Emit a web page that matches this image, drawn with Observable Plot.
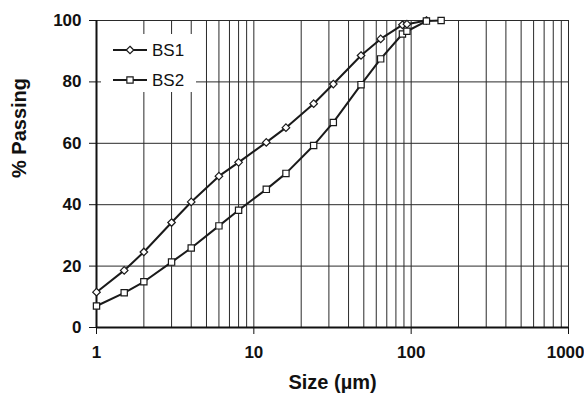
<!DOCTYPE html>
<html>
<head>
<meta charset="utf-8">
<script src="https://cdn.jsdelivr.net/npm/d3@7"></script>
<script src="https://cdn.jsdelivr.net/npm/@observablehq/plot@0.6"></script>
<style>
  html, body { margin: 0; padding: 0; background: #fff; }
  #wrap { position: relative; width: 584px; height: 397px; font-family: Arial, "Liberation Sans", sans-serif; }
  #legend { position: absolute; left: 101px; top: 34px; width: 95px; height: 58px; background: #fff; }
  #legend svg { display: block; }
</style>
</head>
<body>
<div id="wrap"></div>
<script>
const seriesNames = ["BS1", "BS2"];
const sizesBS1 = [1, 1.5, 2, 3, 4, 6, 8, 12, 16, 24, 32, 48, 64, 88, 94, 125];
const passBS1 = [11.5, 18.6, 24.6, 34.2, 40.9, 49.3, 53.8, 60.3, 65.1, 72.9, 79.3, 88.6, 94.0, 98.6, 98.8, 100];
const sizesBS2 = [1, 1.5, 2, 3, 4, 6, 8, 12, 16, 24, 32, 48, 64, 88, 94, 125, 155];
const passBS2 = [7.0, 11.3, 14.9, 21.3, 25.9, 33.1, 38.2, 45.0, 50.2, 59.3, 66.8, 79.1, 87.5, 95.6, 96.5, 99.8, 100];
const xTicks = [1, 10, 100, 1000];
const yTicks = [0, 20, 40, 60, 80, 100];
const xGrid = [2,3,4,5,6,7,8,9,10,20,30,40,50,60,70,80,90,100,200,300,400,500,600,700,800,900,1000];
const yGrid = [20, 40, 60, 80, 100];
const xTitle = "Size (µm)";
const yTitle = "% Passing";

const d1 = sizesBS1.map((s, i) => ({size: s, pass: passBS1[i], series: seriesNames[0]}));
const d2 = sizesBS2.map((s, i) => ({size: s, pass: passBS2[i], series: seriesNames[1]}));

const lastTick = xTicks[xTicks.length - 1];
const font = 'Arial, "Liberation Sans", sans-serif';
const chart = Plot.plot({
  width: 584,
  height: 397,
  marginLeft: 96,
  marginRight: 16,
  marginTop: 20,
  marginBottom: 70,
  style: {fontFamily: font, background: "#fff", color: "#111"},
  x: {type: "log", domain: [1, 1000]},
  y: {domain: [0, 100]},
  marks: [
    Plot.ruleX(xGrid, {stroke: "#2a2a2a", strokeWidth: 1}),
    Plot.ruleY(yGrid, {stroke: "#2a2a2a", strokeWidth: 1}),
    Plot.axisX({ticks: xTicks, tickFormat: d => d === lastTick ? "" : String(d), tickSize: 7, tickPadding: 11, fontSize: 17, fontWeight: "bold", label: null, stroke: "#111"}),
    Plot.axisX({ticks: [lastTick], tickFormat: d => String(d), tickSize: 0, tickPadding: 18, textAnchor: "end", dx: 16, fontSize: 17, fontWeight: "bold", label: null}),
    Plot.axisY({ticks: yTicks, tickSize: 7, tickPadding: 8, fontSize: 17, fontWeight: "bold", label: null, stroke: "#111"}),
    Plot.ruleY([0], {stroke: "#111", strokeWidth: 2}),
    Plot.ruleX([1], {stroke: "#111", strokeWidth: 2}),
    Plot.line(d1, {x: "size", y: "pass", stroke: "#1a1a1a", strokeWidth: 2}),
    Plot.line(d2, {x: "size", y: "pass", stroke: "#1a1a1a", strokeWidth: 2}),
    Plot.dot(d1, {x: "size", y: "pass", symbol: "diamond2", r: 3.4, fill: "#fff", stroke: "#1a1a1a", strokeWidth: 1.2}),
    Plot.dot(d2, {x: "size", y: "pass", symbol: "square2", r: 4, fill: "#fff", stroke: "#1a1a1a", strokeWidth: 1.2}),
    Plot.text([xTitle], {frameAnchor: "bottom", dy: 61, fontSize: 20, fontWeight: "bold", fill: "#111"}),
    Plot.text([yTitle], {frameAnchor: "left", dx: -77, dy: 4, rotate: -90, fontSize: 20, fontWeight: "bold", fill: "#111"})
  ]
});

const wrap = document.getElementById("wrap");
wrap.appendChild(chart);

// Legend overlay drawn with d3 from the series names
const legend = d3.select(wrap).append("div").attr("id", "legend");
const lsvg = legend.append("svg").attr("width", 95).attr("height", 58);
const syms = [d3.symbolDiamond2, d3.symbolSquare2];
const sizesSym = [Math.PI * 3.4 * 3.4, Math.PI * 16];
seriesNames.forEach((name, i) => {
  const g = lsvg.append("g").attr("transform", `translate(0,${16 + i * 30})`);
  g.append("line").attr("x1", 12).attr("x2", 46).attr("y1", 0).attr("y2", 0).attr("stroke", "#1a1a1a").attr("stroke-width", 2);
  g.append("path").attr("d", d3.symbol(syms[i], sizesSym[i])()).attr("transform", "translate(29,0)")
    .attr("fill", "#fff").attr("stroke", "#1a1a1a").attr("stroke-width", 1.2);
  g.append("text").attr("x", 51).attr("y", 0).attr("dy", "0.35em").attr("font-size", 17)
    .attr("font-family", font).attr("fill", "#111").text(name);
});
</script>
</body>
</html>
